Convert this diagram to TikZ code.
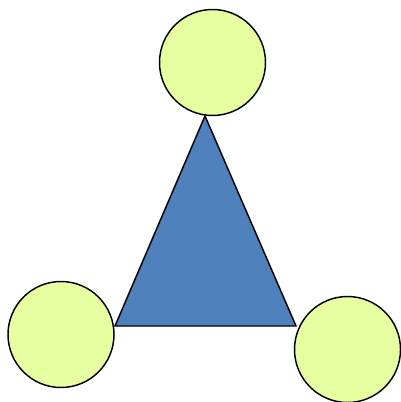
\documentclass[tikz,border=0pt]{standalone}
\definecolor{ballfill}{HTML}{E6FFA0}
\definecolor{triblue}{HTML}{4F81BD}
\begin{document}
\begin{tikzpicture}[x=0.75pt,y=-0.75pt,
  ball/.style={circle,draw=black,fill=ballfill,line width=1.1pt,minimum size=79.5pt,inner sep=0pt}]
\useasboundingbox (0,0) rectangle (400,402);
\coordinate (apex) at (205,116);
\coordinate (bl) at (115,326);
\coordinate (br) at (296,326);
\draw[fill=triblue,line width=1.1pt,line join=miter] (apex) -- (bl) -- (br) -- cycle;
\node[ball] (top) at (212.5,62.5) {};
\node[ball] (left) at (61,334.5) {};
\node[ball] (right) at (347.5,349.5) {};
\end{tikzpicture}
\end{document}
